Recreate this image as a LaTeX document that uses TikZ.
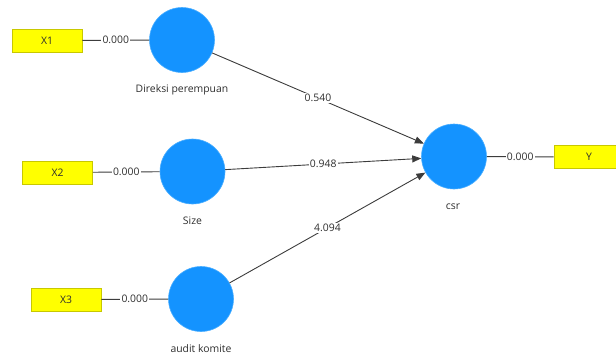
\documentclass[tikz,border=0pt]{standalone}
\usepackage{fontspec}
\setmainfont{Open Sans}
\usetikzlibrary{arrows.meta}
\definecolor{lvblue}{HTML}{1493FF}
\definecolor{lvedge}{HTML}{4AAEFF}
\definecolor{indfill}{HTML}{FFFF00}
\definecolor{indedge}{HTML}{C8C800}
\definecolor{linec}{HTML}{3C3C3C}
\definecolor{txt}{HTML}{2E2E2E}
\begin{document}
\begin{tikzpicture}[x=1pt,y=-1pt,
  latent/.style={circle,fill=lvblue,draw=lvedge,line width=0.6pt,minimum size=65pt,inner sep=0pt},
  indicator/.style={rectangle,fill=indfill,draw=indedge,line width=0.8pt,minimum width=70pt,minimum height=23pt,inner sep=0pt,text=txt,font=\fontsize{10.4}{12}\selectfont},
  coef/.style={fill=white,inner sep=1.2pt,text=txt,font=\fontsize{10.4}{12}\selectfont},
  caption/.style={text=txt,font=\fontsize{10.4}{12}\selectfont},
  link/.style={draw=linec,line width=0.9pt},
  effect/.style={link,-{Triangle[length=9pt,width=7pt]}}
]
\useasboundingbox (0,0) rectangle (616,359);
\clip (0,0) rectangle (616,359);

% latent variables
\node[latent] (dir) at (182,40) {};
\node[latent] (size) at (192.5,171.5) {};
\node[latent] (aud) at (201,299) {};
\node[latent] (csr) at (454,156.5) {};

% captions below the latent variables
\node[caption] (capdir) at (182,90) {Direksi perempuan};
\node[caption] (capsize) at (192.5,221) {Size};
\node[caption] (capaud) at (201,349) {audit komite};
\node[caption] (capcsr) at (453,207) {csr};

% indicators
\node[indicator] (x1) at (47,40.5) {X1};
\node[indicator] (x2) at (57.5,172.5) {X2};
\node[indicator] (x3) at (66,299.5) {X3};
\node[indicator] (y) at (589,157) {Y};

% measurement links
\draw[link] (x1) -- node[coef] {0.000} (dir);
\draw[link] (x2) -- node[coef] {0.000} (size);
\draw[link] (x3) -- node[coef] {0.000} (aud);
\draw[link] (csr) -- node[coef] {0.000} (y);

% structural paths
\draw[effect] (dir) -- node[coef] {0.540} (csr);
\draw[effect] (size) -- node[coef] {0.948} (csr);
\draw[effect] (aud) -- node[coef] {4.094} (csr);
\end{tikzpicture}
\end{document}
